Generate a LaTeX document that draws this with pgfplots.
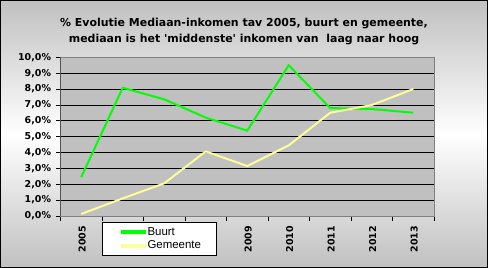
\documentclass[border=0pt]{standalone}
\usepackage{fontspec}
\setmainfont{DejaVu Sans}
\newfontfamily\arialfont{Liberation Sans}
\usepackage{pgfplots}
\pgfplotsset{compat=1.18}
\definecolor{silverbg}{HTML}{C0C0C0}
\definecolor{buurt}{HTML}{00FF00}
\definecolor{gem}{HTML}{FFFF99}
\definecolor{bordergray}{HTML}{808080}
\begin{document}
\begin{tikzpicture}
\shade[top color=silverbg, bottom color=silverbg, middle color=white] (0bp,0bp) rectangle (488bp,268bp);
\draw[black, line width=1bp] (0.5bp,0.5bp) rectangle (487.5bp,267.5bp);
\path[use as bounding box] (0bp,0bp) rectangle (488bp,268bp);
\node[font=\bfseries\fontsize{11}{17}\selectfont, align=center] at (244bp,236.5bp)
  {\% Evolutie Mediaan-inkomen tav 2005, buurt en gemeente,\\mediaan is het \textquotesingle middenste\textquotesingle\ inkomen van\ \ laag naar hoog};
\begin{axis}[at={(60.5bp,52bp)}, anchor=south west, scale only axis,
  width=373.5bp, height=158.7bp,
  xmin=-0.5, xmax=8.5, ymin=0, ymax=10,
  xtick={0,...,8}, xticklabels={2005,2006,2007,2008,2009,2010,2011,2012,2013},
  major x tick style={draw=none},
  minor xtick={-0.5,0.5,...,8.5},
  xtick pos=bottom, ytick pos=left,
  ytick={0,...,10},
  yticklabels={{0,0\%},{1,0\%},{2,0\%},{3,0\%},{4,0\%},{5,0\%},{6,0\%},{7,0\%},{8,0\%},{9,0\%},{10,0\%}},
  /pgf/number format/assume math mode=true,
  tick align=outside, major tick length=4.5bp, minor tick length=4.5bp,
  every tick/.style={black, line width=0.8bp},
  ymajorgrids, major grid style={black, line width=0.8bp},
  axis background/.style={fill=silverbg},
  axis line style={bordergray, line width=0.8bp},
  yticklabel style={font=\bfseries\fontsize{9.5}{10}\selectfont, xshift=-1.5bp},
  xticklabel style={font=\bfseries\fontsize{9.5}{10}\selectfont, rotate=90, anchor=east, yshift=-1bp, xshift=-2bp},
  legend style={at={(axis description cs:0.111,-0.252)}, anchor=south west,
    draw=black, fill=white, font=\arialfont\fontsize{11.5}{13}\selectfont,
    inner xsep=18.7bp, inner ysep=3.3bp, row sep=0bp, line width=0.8bp},
  legend cell align=left,
  legend image code/.code={\useasboundingbox (0bp,-1bp) rectangle (22.5bp,1bp); \draw[#1, line width=1.6bp] (0bp,0bp) -- (24.3bp,0bp);},
]
\addplot[buurt, line width=2bp] coordinates {(0,2.45)(1,8.08)(2,7.35)(3,6.2)(4,5.38)(5,9.5)(6,6.8)(7,6.74)(8,6.51)};
\addlegendentry{\makebox[48.4bp][l]{Buurt}}
\addplot[gem, line width=2bp] coordinates {(0,0.13)(1,1.11)(2,2.06)(3,4.07)(4,3.15)(5,4.45)(6,6.51)(7,6.99)(8,8.0)};
\addlegendentry{\makebox[48.4bp][l]{Gemeente}}
\draw[black, line width=0.8bp] (rel axis cs:0,1) -- (rel axis cs:0,0) -- (rel axis cs:1,0);
\end{axis}
\end{tikzpicture}
\end{document}
